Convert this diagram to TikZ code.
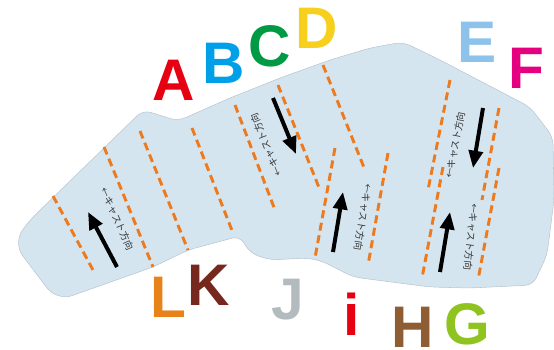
\documentclass[tikz,border=0pt]{standalone}
\usepackage{fontspec}
\setmainfont{Liberation Sans}
\newfontfamily\jpfont{Noto Sans CJK JP}
\usetikzlibrary{arrows.meta}

\definecolor{slab}{RGB}{213,229,239}
\definecolor{slabedge}{RGB}{185,198,208}
\definecolor{cutorange}{RGB}{237,122,30}
\definecolor{colA}{RGB}{230,0,18}
\definecolor{colB}{RGB}{0,160,233}
\definecolor{colC}{RGB}{0,153,68}
\definecolor{colD}{RGB}{247,208,30}
\definecolor{colE}{RGB}{141,195,235}
\definecolor{colF}{RGB}{228,0,127}
\definecolor{colG}{RGB}{143,195,31}
\definecolor{colH}{RGB}{143,93,51}
\definecolor{colI}{RGB}{230,0,18}
\definecolor{colJ}{RGB}{180,187,191}
\definecolor{colK}{RGB}{118,40,30}
\definecolor{colL}{RGB}{232,130,26}

\begin{document}
\begin{tikzpicture}[x=0.75pt, y=-0.75pt]
            % Define styles
            \tikzstyle{letter} = [inner sep=0pt, anchor=base, font=\fontsize{44}{44}\selectfont\bfseries]
            \tikzstyle{cut} = [draw=cutorange, line width=2.2pt, dash pattern=on 6pt off 3.5pt]
            \tikzstyle{flow} = [draw, line width=3pt, -{Triangle[length=13pt, width=10.5pt]}]
            \tikzstyle{castlabel} = [inner sep=0pt, text=black!80, font=\jpfont\fontsize{7.2}{7.2}\selectfont]

            \useasboundingbox (0,0) rectangle (554,350);

            % Slab outline
            \filldraw[fill=slab, draw=slabedge, line width=0.4pt, rounded corners=6pt]
                (143,110) -- (178,121) -- (230,98) -- (280,78) -- (330,60) -- (370,48) -- (403,42)
                -- (440,60) -- (530,107) -- (553,137) -- (554,200) -- (547,255) -- (533,285)
                -- (470,288) -- (430,287) -- (353,277) -- (322,261) -- (307,258) -- (270,260)
                -- (250,253) -- (240,236) -- (188,250) -- (153,267)
                [rounded corners=12pt] -- (57,301) -- (13,243) [rounded corners=6pt] -- (30,220) -- cycle;

            % Cut lines
            \draw[cut] (53,196) -- (93,270);
            \draw[cut] (104,147) -- (153,267);
            \draw[cut] (140,131) -- (188,250);
            \draw[cut] (192,128) -- (233,233);
            \draw[cut] (235,105) -- (275,210);
            \draw[cut] (278,85) -- (320,190);
            \draw[cut] (323,65) -- (365,170);
            \draw[cut] (335,148) -- (315,258);
            \draw[cut] (388,153) -- (368,265);
            \draw[cut] (450,80) -- (428,190);
            \draw[cut] (443,167) -- (422,278);
            \draw[cut] (499,108) -- (482,200);
            \draw[cut] (499,168) -- (478,280);

            % Cast direction arrows
            \draw[flow] (117,267) -- (88,212);
            \draw[flow] (273,98) -- (296,154);
            \draw[flow] (333,252) -- (343,192);
            \draw[flow] (483,108) -- (473,168);
            \draw[flow] (440,272) -- (450,212);

            % Cast direction labels
            \node[castlabel, rotate=-66] (cast1) at (117,219) {←キャスト方向};
            \node[castlabel, rotate=112] (cast2) at (266,145) {←キャスト方向};
            \node[castlabel, rotate=-99] (cast3) at (363,217) {←キャスト方向};
            \node[castlabel, rotate=79] (cast4) at (455,145) {←キャスト方向};
            \node[castlabel, rotate=-96] (cast5) at (471,237) {←キャスト方向};

            % Upper letters
            \node[letter, text=colA] (A) at (174,100) {A};
            \node[letter, text=colB] (B) at (224,83) {B};
            \node[letter, text=colC] (C) at (270,66) {C};
            \node[letter, text=colD] (D) at (317,48) {D};
            \node[letter, text=colE] (E) at (477,62) {E};
            \node[letter, text=colF] (F) at (526,88) {F};

            % Lower letters
            \node[letter, text=colL] (L) at (168,317) {L};
            \node[letter, text=colK] (K) at (209,305) {K};
            \node[letter, text=colJ] (J) at (288,319) {J};
            \node[letter, text=colI] (i) at (352,335) {i};
            \node[letter, text=colH] (H) at (413,347) {H};
            \node[letter, text=colG] (G) at (467,344) {G};
\end{tikzpicture}
\end{document}
